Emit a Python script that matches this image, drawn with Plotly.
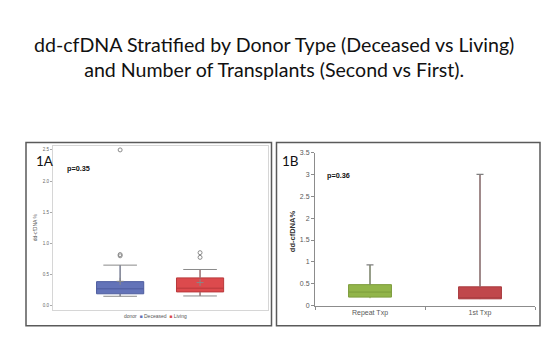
import plotly.graph_objects as go

# ---------------- data ----------------
title_lines = ["dd-cfDNA Stratified by Donor Type (Deceased vs Living)",
               "and Number of Transplants (Second vs First)."]

# Panel 1A : donor type
donor_cats = ["Deceased", "Living"]
donor_q1 = [0.19, 0.22]
donor_median = [0.27, 0.28]
donor_q3 = [0.385, 0.445]
donor_lower = [0.15, 0.155]
donor_upper = [0.65, 0.58]
donor_mean = [0.39, 0.37]
donor_outliers = {"Deceased": [0.80, 0.82, 2.5], "Living": [0.775, 0.85]}
donor_fill = ["#6373b8", "#dc4a4d"]
donor_edge = ["#4d5c9e", "#b8383b"]
p_1a = "p=0.35"

# Panel 1B : number of transplants
txp_cats = ["Repeat Txp", "1st Txp"]
txp_q1 = [0.195, 0.155]
txp_median = [0.31, 0.16]
txp_q3 = [0.48, 0.43]
txp_lower = [0.17, 0.15]
txp_upper = [0.93, 3.0]
txp_fill = ["#92b54a", "#c0474b"]
txp_edge = ["#7d9c3c", "#a83b3f"]
p_1b = "p=0.36"

W, H = 547, 338
def fx(px): return px / W
def fy(py): return 1 - py / H

fig = go.Figure()

# ---------- Panel 1A boxes ----------
for i, c in enumerate(donor_cats):
    fig.add_trace(go.Box(
        x=[c], q1=[donor_q1[i]], median=[donor_median[i]], q3=[donor_q3[i]],
        lowerfence=[donor_lower[i]], upperfence=[donor_upper[i]],
        boxpoints=False, width=0.59, whiskerwidth=0,
        fillcolor=donor_fill[i], line=dict(color=donor_edge[i], width=1),
        xaxis="x", yaxis="y", showlegend=False, hoverinfo="skip"))
# whisker stems (gray)
sx, sy = [], []
for i, c in enumerate(donor_cats):
    sx += [c, c, None, c, c, None]
    sy += [donor_q3[i], donor_upper[i], None, donor_lower[i], donor_q1[i], None]
fig.add_trace(go.Scatter(x=sx, y=sy, mode="lines", line=dict(color="#8a8a8a", width=1),
                         xaxis="x", yaxis="y", showlegend=False, hoverinfo="skip"))
fig.add_trace(go.Scatter(x=donor_cats + donor_cats, y=donor_upper + donor_lower, mode="markers",
                         marker=dict(symbol="line-ew", size=24, line=dict(color="#8a8a8a", width=1)),
                         xaxis="x", yaxis="y", showlegend=False, hoverinfo="skip"))
# means
fig.add_trace(go.Scatter(x=donor_cats, y=donor_mean, mode="markers",
                         marker=dict(symbol="cross-thin", size=5, line=dict(color="#888", width=1)),
                         xaxis="x", yaxis="y", showlegend=False, hoverinfo="skip"))
# outliers
ox, oy = [], []
for c in donor_cats:
    ox += [c] * len(donor_outliers[c])
    oy += donor_outliers[c]
fig.add_trace(go.Scatter(x=ox, y=oy, mode="markers",
                         marker=dict(symbol="circle-open", size=4, color="#8a8a8a", line=dict(width=1)),
                         xaxis="x", yaxis="y", showlegend=False, hoverinfo="skip"))

# ---------- Panel 1B boxes ----------
for i, c in enumerate(txp_cats):
    fig.add_trace(go.Box(
        x=[c], q1=[txp_q1[i]], median=[txp_median[i]], q3=[txp_q3[i]],
        lowerfence=[txp_lower[i]], upperfence=[txp_upper[i]],
        boxpoints=False, width=0.39, whiskerwidth=0,
        fillcolor=txp_fill[i], line=dict(color=txp_edge[i], width=1),
        xaxis="x2", yaxis="y2", showlegend=False, hoverinfo="skip"))
sx, sy = [], []
for i, c in enumerate(txp_cats):
    sx += [c, c, None]
    sy += [txp_q3[i], txp_upper[i], None]
fig.add_trace(go.Scatter(x=sx, y=sy, mode="lines", line=dict(color="#7f7f7f", width=1.2),
                         xaxis="x2", yaxis="y2", showlegend=False, hoverinfo="skip"))
fig.add_trace(go.Scatter(x=txp_cats, y=txp_upper, mode="markers",
                         marker=dict(symbol="line-ew", size=5, line=dict(color="#7f7f7f", width=1.2)),
                         xaxis="x2", yaxis="y2", showlegend=False, hoverinfo="skip"))

tickfont_a = dict(family="Liberation Sans", size=4.5, color="#666")
tickfont_b = dict(family="Liberation Sans", size=7, color="#595959")

fig.update_layout(
    width=W, height=H, margin=dict(l=0, r=0, t=0, b=0),
    paper_bgcolor="white", plot_bgcolor="white", showlegend=False,
    xaxis=dict(domain=[fx(53), fx(268)], type="category", categoryorder="array",
               categoryarray=donor_cats, range=[-0.84, 1.85], showticklabels=False,
               showline=True, mirror=True, linecolor="#d6d6d6", linewidth=1,
               showgrid=False, zeroline=False, ticks=""),
    yaxis=dict(domain=[fy(312), fy(145)], range=[-0.063, 2.563], anchor="x",
               tickvals=[0, 0.5, 1.0, 1.5, 2.0, 2.5], tickformat=".1f",
               ticks="outside", ticklen=2, tickcolor="#aaa", tickfont=tickfont_a,
               showline=True, mirror=True, linecolor="#d6d6d6", linewidth=1,
               showgrid=False, zeroline=False),
    xaxis2=dict(domain=[fx(315), fx(535)], type="category", categoryorder="array",
                categoryarray=txp_cats, range=[-0.5, 1.5], anchor="y2",
                showline=True, linecolor="#8c8c8c", linewidth=1,
                ticks="outside", tickson="boundaries", ticklen=3, tickcolor="#8c8c8c",
                tickfont=tickfont_b, showgrid=False, zeroline=False),
    yaxis2=dict(domain=[fy(308), fy(151.7)], range=[0, 3.5], anchor="x2", dtick=0.5,
                showline=True, linecolor="#8c8c8c", linewidth=1,
                ticks="outside", ticklen=3, tickcolor="#8c8c8c",
                tickfont=tickfont_b, showgrid=False, zeroline=False),
)

# panel frames
for x0, x1 in [(26, 271.5), (276.5, 540)]:
    fig.add_shape(type="rect", xref="paper", yref="paper",
                  x0=fx(x0), x1=fx(x1), y0=fy(328.5), y1=fy(141.5),
                  line=dict(color="#5a5a5a", width=1.5), fillcolor="rgba(0,0,0,0)")

ann = []
# title
ann.append(dict(text="<br>".join(title_lines), x=0.5, y=fy(54.5), xref="paper", yref="paper",
                showarrow=False, xanchor="center", yanchor="middle",
                font=dict(family="Lato", size=19.6, color="#111")))
# panel labels
ann.append(dict(text="1A", x=fx(34), y=fy(160), xref="paper", yref="paper", showarrow=False,
                xanchor="left", yanchor="middle", font=dict(family="Lato", size=13.5, color="#111")))
ann.append(dict(text="1B", x=fx(279.5), y=fy(160), xref="paper", yref="paper", showarrow=False,
                xanchor="left", yanchor="middle", font=dict(family="Lato", size=13.5, color="#111")))
ann.append(dict(text="<b>" + p_1a + "</b>", x=fx(64.5), y=fy(168), xref="paper", yref="paper",
                showarrow=False, xanchor="left", yanchor="middle",
                font=dict(family="Liberation Sans", size=7.3, color="#111")))
ann.append(dict(text="<b>" + p_1b + "</b>", x=fx(324.5), y=fy(175), xref="paper", yref="paper",
                showarrow=False, xanchor="left", yanchor="middle",
                font=dict(family="Liberation Sans", size=7.3, color="#111")))
# y titles
ann.append(dict(text="dd-cfDNA %", x=fx(35), y=fy(228), xref="paper", yref="paper",
                showarrow=False, textangle=-90, xanchor="center", yanchor="middle",
                font=dict(family="Liberation Sans", size=5, color="#555")))
ann.append(dict(text="<b>dd-cfDNA%</b>", x=fx(292), y=fy(232), xref="paper", yref="paper",
                showarrow=False, textangle=-90, xanchor="center", yanchor="middle",
                font=dict(family="Liberation Sans", size=7.5, color="#333")))
# legend for 1A
legend_txt = "donor  " + "  ".join(
    f"<span style='color:{donor_fill[i]}'>■</span> {c}" for i, c in enumerate(donor_cats))
ann.append(dict(text=legend_txt, x=fx(155), y=fy(319), xref="paper", yref="paper",
                showarrow=False, xanchor="center", yanchor="middle",
                font=dict(family="Liberation Sans", size=5, color="#555")))
fig.update_layout(annotations=ann)

fig.write_html("out.html")
